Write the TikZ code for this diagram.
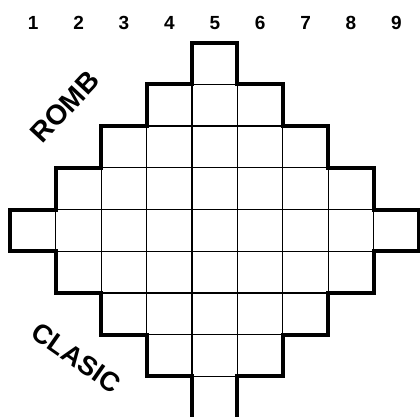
\documentclass[tikz,border=0pt]{standalone}
\usepackage{fontspec}
\setmainfont{Liberation Sans}
\usetikzlibrary{positioning}
\definecolor{Ink}{HTML}{000000}
\tikzset{
  cell/.style={draw=Ink, line width=1.2pt},
  rim/.style={draw=Ink, line width=4pt, line join=miter},
  colnum/.style={font=\fontsize{19}{19}\selectfont\bfseries, text=Ink, inner sep=0pt},
  tag/.style={font=\fontsize{#1}{#1}\selectfont\bfseries, text=Ink, inner sep=0pt},
  tag/.default=28
}

\begin{document}
\begin{tikzpicture}[x=45.4pt, y=41.7pt]
    \useasboundingbox (-0.231,1.024) rectangle (9.02,-8.976);
    % thin cells, row by row
    \foreach \j in {0,...,8} {
      \pgfmathtruncatemacro{\lo}{abs(4-\j)}
      \pgfmathtruncatemacro{\hi}{8-abs(4-\j)}
      \foreach \i in {\lo,...,\hi}
        \draw[cell] (\i,-\j) rectangle ++(1,-1);
    }
    % outline of the diamond
    \draw[rim] (4,-9.3) -- (4,-8) -- (3,-8) -- (3,-7) -- (2,-7) -- (2,-6)
      -- (1,-6) -- (1,-5) -- (0,-5) -- (0,-4) -- (1,-4) -- (1,-3) -- (2,-3)
      -- (2,-2) -- (3,-2) -- (3,-1) -- (4,-1) -- (4,0) -- (5,0) -- (5,-1)
      -- (6,-1) -- (6,-2) -- (7,-2) -- (7,-3) -- (8,-3) -- (8,-4) -- (9,-4)
      -- (9,-5) -- (8,-5) -- (8,-6) -- (7,-6) -- (7,-7) -- (6,-7) -- (6,-8)
      -- (5,-8) -- (5,-9.3);
    % column numbers
    \foreach \i in {1,...,9}
      \node[colnum] (c\i) at (\i-0.5,0.472) {\i};
    \node[tag, rotate=47] (romb) at (1.20,-1.54) {ROMB};
    \node[tag=27, rotate=-35] (clasic) at (1.45,-7.56) {CLASIC};
\end{tikzpicture}
\end{document}
